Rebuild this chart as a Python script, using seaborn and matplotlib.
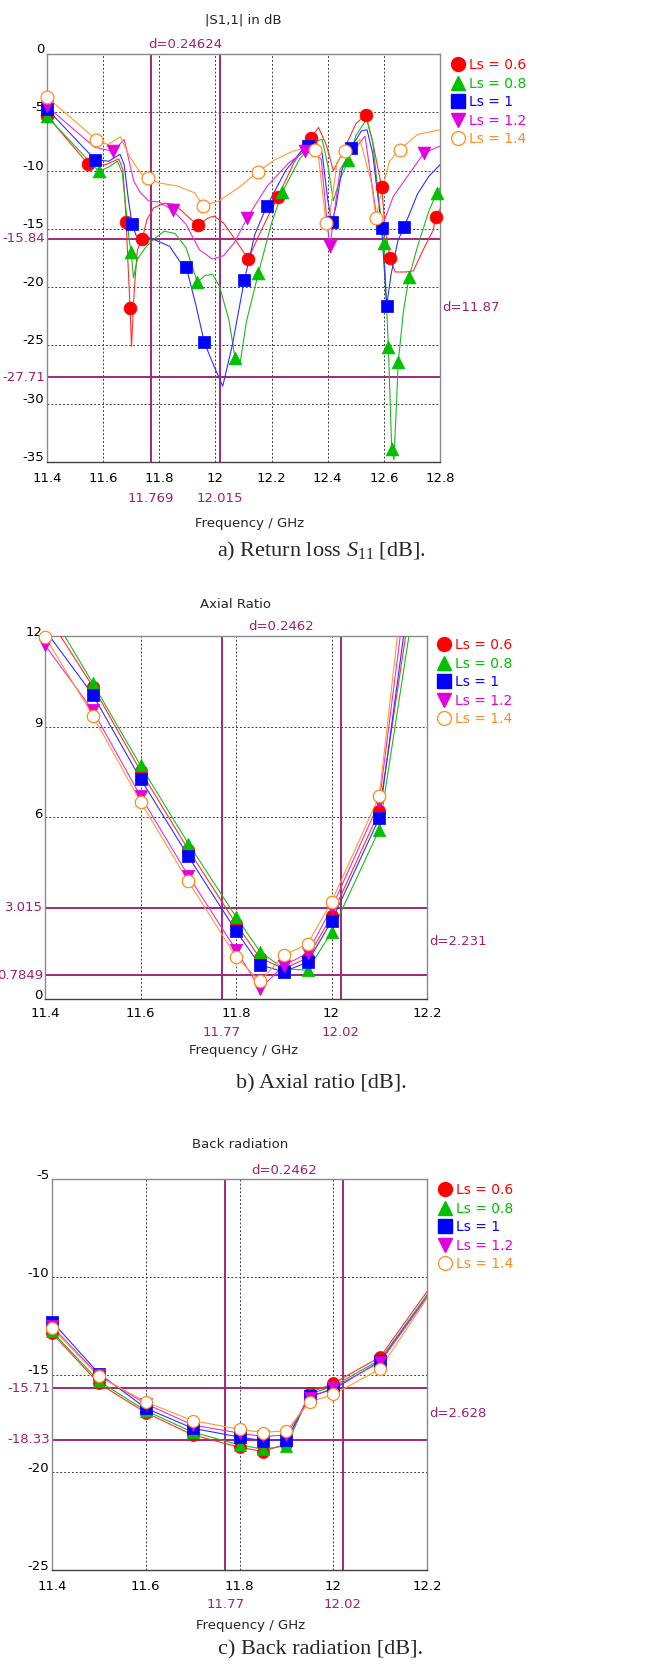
import matplotlib
matplotlib.use('Agg')
import matplotlib.pyplot as plt
import matplotlib.transforms as mtransforms
from matplotlib.lines import Line2D
import seaborn as sns

# Ls sweep, three CST results (S11, axial ratio, back radiation)
labels = ['Ls = 0.6', 'Ls = 0.8', 'Ls = 1', 'Ls = 1.2', 'Ls = 1.4']
colors = ['#ff0000', '#00c000', '#0000ff', '#e000e0', '#ff8c1a']
line_colors = ['#ff3030', '#20b820', '#3030ff', '#e030e0', '#ff9a30']
marks = ['o', '^', 's', 'v', 'o']

# ---- a) |S11| curves (read off the picture) ----
s11_f_06 = [11.40, 11.545, 11.608, 11.656, 11.670, 11.677, 11.682, 11.689, 11.696, 11.701, 11.711, 11.722, 11.739,
            11.756, 11.780, 11.818, 11.856, 11.895, 11.938, 11.971, 11.995, 12.029, 12.067, 12.117, 12.150, 12.190,
            12.222, 12.280, 12.340, 12.367, 12.395, 12.420, 12.450, 12.500, 12.535, 12.560, 12.592, 12.605, 12.622,
            12.640, 12.680, 12.705, 12.740, 12.776, 12.784, 12.800]
s11_db_06 = [-5.3, -9.4, -9.5, -9.0, -9.9, -12.2, -14.4, -18.2, -21.8, -25.1, -20.2, -16.8, -15.9,
             -14.2, -13.2, -12.8, -12.9, -13.8, -14.7, -14.1, -13.9, -14.5, -15.8, -17.6, -15.8, -13.8,
             -12.3, -9.3, -7.2, -6.3, -7.8, -10.0, -8.6, -6.0, -5.2, -7.5, -11.4, -15.0, -17.5,
             -18.7, -18.7, -18.6, -16.8, -15.1, -14.0, -13.3]
s11_f_08 = [11.40, 11.584, 11.620, 11.651, 11.668, 11.680, 11.693, 11.700, 11.708, 11.722, 11.751, 11.780, 11.818,
            11.856, 11.895, 11.936, 11.962, 11.990, 12.014, 12.048, 12.070, 12.088, 12.110, 12.153, 12.200, 12.237,
            12.300, 12.350, 12.380, 12.400, 12.420, 12.440, 12.474, 12.500, 12.539, 12.560, 12.580, 12.600, 12.616,
            12.628, 12.636, 12.645, 12.651, 12.670, 12.690, 12.720, 12.760, 12.788, 12.800]
s11_db_08 = [-5.35, -10.06, -9.7, -9.2, -10.2, -13.0, -16.0, -17.0, -19.2, -17.6, -16.6, -15.9, -15.2,
             -15.4, -16.6, -19.6, -19.0, -18.9, -19.9, -22.8, -26.1, -26.5, -23.0, -18.8, -14.5, -11.9,
             -9.0, -7.6, -7.3, -9.5, -12.6, -11.0, -9.06, -7.0, -5.6, -7.5, -12.0, -16.2, -25.1,
             -33.9, -34.8, -30.0, -26.5, -22.0, -19.1, -16.5, -13.5, -11.9, -11.5]
s11_f_10 = [11.40, 11.571, 11.620, 11.660, 11.675, 11.690, 11.703, 11.718, 11.770, 11.837, 11.876, 11.896, 11.930,
            11.960, 11.990, 12.026, 12.060, 12.103, 12.140, 12.182, 12.250, 12.310, 12.360, 12.380, 12.400, 12.415,
            12.430, 12.450, 12.482, 12.520, 12.540, 12.560, 12.580, 12.592, 12.610, 12.625, 12.650, 12.672, 12.720,
            12.760, 12.800]
s11_db_10 = [-4.71, -9.06, -9.2, -8.6, -9.5, -12.5, -14.6, -15.6, -15.8, -16.5, -17.9, -18.3, -21.5,
             -24.7, -26.5, -28.5, -25.0, -19.4, -15.5, -13.1, -10.0, -8.2, -7.6, -8.5, -12.5, -14.5,
             -13.0, -10.0, -8.06, -6.6, -6.5, -8.5, -12.5, -14.9, -21.6, -19.0, -16.0, -14.86, -12.0,
             -10.5, -9.5]
s11_f_12 = [11.40, 11.570, 11.635, 11.675, 11.690, 11.709, 11.733, 11.762, 11.800, 11.848, 11.895, 11.943, 11.990,
            12.029, 12.067, 12.113, 12.184, 12.261, 12.319, 12.348, 12.377, 12.396, 12.408, 12.420, 12.444, 12.473,
            12.533, 12.574, 12.586, 12.634, 12.743, 12.800]
s11_db_12 = [-4.5, -8.0, -8.34, -7.34, -8.9, -10.9, -11.9, -12.6, -12.7, -13.4, -14.6, -16.8, -17.6,
             -17.3, -16.2, -14.06, -11.34, -9.34, -8.34, -8.2, -9.06, -13.9, -16.6, -14.2, -9.9, -8.8,
             -7.06, -13.9, -15.3, -12.2, -8.49, -7.9]
s11_f_14 = [11.40, 11.575, 11.617, 11.661, 11.694, 11.733, 11.760, 11.800, 11.867, 11.925, 11.957, 12.010, 12.087,
            12.150, 12.213, 12.280, 12.338, 12.353, 12.367, 12.382, 12.394, 12.400, 12.415, 12.433, 12.462, 12.515,
            12.555, 12.572, 12.585, 12.620, 12.657, 12.720, 12.800]
s11_db_14 = [-3.7, -7.34, -7.77, -7.11, -8.77, -10.2, -10.63, -11.06, -11.34, -11.9, -13.0, -12.63, -11.4,
             -10.11, -9.06, -8.3, -8.0, -8.26, -8.8, -12.0, -14.5, -15.3, -12.5, -9.3, -8.29, -7.34,
             -11.0, -14.06, -12.5, -9.2, -8.2, -6.9, -6.5]

# marker positions on the S11 curves
s11_mk_f_06 = [11.40, 11.545, 11.682, 11.696, 11.738, 11.938, 12.117, 12.222, 12.340, 12.535, 12.592, 12.622, 12.784]
s11_mk_db_06 = [-5.3, -9.4, -14.43, -21.8, -15.9, -14.7, -17.6, -12.26, -7.23, -5.2, -11.43, -17.5, -13.97]
s11_mk_f_08 = [11.40, 11.584, 11.700, 11.936, 12.070, 12.153, 12.237, 12.474, 12.600, 12.616, 12.628, 12.651, 12.690, 12.788]
s11_mk_db_08 = [-5.35, -10.06, -17.0, -19.6, -26.1, -18.8, -11.86, -9.06, -16.2, -25.1, -33.9, -26.46, -19.1, -11.9]
s11_mk_f_10 = [11.40, 11.571, 11.704, 11.896, 11.960, 12.103, 12.182, 12.330, 12.415, 12.482, 12.592, 12.610, 12.672]
s11_mk_db_10 = [-4.71, -9.06, -14.6, -18.3, -24.7, -19.37, -13.06, -7.86, -14.43, -8.06, -14.91, -21.6, -14.86]
s11_mk_f_12 = [11.40, 11.635, 11.848, 12.113, 12.319, 12.408, 12.743]
s11_mk_db_12 = [-4.5, -8.34, -13.4, -14.06, -8.34, -16.5, -8.49]
s11_mk_f_14 = [11.40, 11.575, 11.760, 11.957, 12.150, 12.353, 12.394, 12.462, 12.572, 12.657]
s11_mk_db_14 = [-3.7, -7.34, -10.63, -13.0, -10.11, -8.26, -14.54, -8.29, -14.06, -8.2]

# ---- b) axial ratio ----
ar_freq = [11.4, 11.5, 11.6, 11.7, 11.8, 11.85, 11.9, 11.95, 12.0, 12.1, 12.2]
ar_06 = [12.8, 10.33, 7.54, 4.94, 2.49, 1.36, 1.0, 1.36, 2.74, 6.2, 16.7]
ar_08 = [13.1, 10.44, 7.72, 5.14, 2.72, 1.57, 1.0, 0.95, 2.21, 5.6, 15.9]
ar_10 = [12.2, 10.06, 7.28, 4.72, 2.25, 1.13, 0.9, 1.22, 2.57, 5.98, 17.8]
ar_12 = [11.7, 9.54, 6.71, 4.08, 1.62, 0.34, 1.1, 1.52, 3.0, 6.5, 19.0]
ar_14 = [11.98, 9.37, 6.52, 3.89, 1.40, 0.58, 1.44, 1.82, 3.21, 6.71, 20.6]

# ---- c) back radiation ----
br_freq = [11.4, 11.5, 11.6, 11.7, 11.8, 11.85, 11.9, 11.95, 12.0, 12.1, 12.2]
br_06 = [-12.88, -15.46, -16.95, -18.09, -18.72, -18.94, -18.55, -15.93, -15.46, -14.10, -10.76]
br_08 = [-12.80, -15.34, -16.85, -17.95, -18.60, -18.82, -18.65, -16.00, -15.60, -14.24, -10.93]
br_10 = [-12.29, -14.95, -16.72, -17.75, -18.20, -18.38, -18.34, -16.10, -15.76, -14.32, -11.02]
br_12 = [-12.54, -15.05, -16.50, -17.58, -18.00, -18.17, -18.09, -16.19, -15.68, -14.37, -11.05]
br_14 = [-12.63, -15.10, -16.40, -17.36, -17.80, -17.97, -17.87, -16.40, -16.02, -14.71, -11.10]

# marker (cursor) readouts
s11_vlines = [11.769, 12.015]
s11_hlines = [-15.84, -27.71]
ar_vlines = [11.77, 12.02]
ar_hlines = [3.015, 0.7849]
br_vlines = [11.77, 12.02]
br_hlines = [-15.71, -18.33]

sns.set_theme(style='white')
plt.rcParams['font.family'] = ['DejaVu Sans']
plt.rcParams['mathtext.fontset'] = 'custom'
plt.rcParams['mathtext.rm'] = 'Liberation Serif'
plt.rcParams['mathtext.it'] = 'Liberation Serif:italic'

W, H = 645, 1667
MK = '#a0287a'
MKT = '#a0206e'
FS = 9.5

fig = plt.figure(figsize=(W / 100, H / 100), dpi=100)


def px_axes(l, t, r, b):
    return fig.add_axes([l / W, 1 - b / H, (r - l) / W, (b - t) / H])


def ftext(x, y, s, **kw):
    fig.text(x / W, 1 - y / H, s, **kw)


def draw_series(ax, f, v, mf, mv, i, ms=85):
    sns.lineplot(x=f, y=v, color=line_colors[i], lw=0.8, ax=ax, sort=False, estimator=None, zorder=3 + i)
    if i == 4:
        sns.scatterplot(x=mf, y=mv, marker='o', s=ms, color='white', edgecolor=colors[i], linewidth=0.9,
                        ax=ax, zorder=10 + i, clip_on=False)
    else:
        sns.scatterplot(x=mf, y=mv, marker=marks[i], s=ms, color=colors[i], edgecolor=colors[i], linewidth=0.5,
                        ax=ax, zorder=10 + i, clip_on=False)


def style_axes(ax, xt, xl, yt, yl, xlim, ylim, xpad, yshift):
    ax.set_xlim(*xlim)
    ax.set_ylim(*ylim)
    ax.set_xticks(xt)
    ax.set_xticklabels(xl)
    ax.set_yticks(yt)
    ax.set_yticklabels(yl)
    ax.set_xlabel('')
    ax.set_ylabel('')
    ax.grid(True, ls=(0, (2, 2)), color='#404040', lw=0.7)
    ax.tick_params(length=0, labelsize=FS, colors='black')
    ax.tick_params(axis='x', pad=xpad)
    ax.tick_params(axis='y', pad=2)
    off = mtransforms.ScaledTranslation(0, yshift / 100, fig.dpi_scale_trans)
    for lab in ax.get_yticklabels():
        lab.set_transform(lab.get_transform() + off)
    for side in ['top', 'right', 'left']:
        ax.spines[side].set_color('#8a8a8a')
        ax.spines[side].set_linewidth(1)
    ax.spines['bottom'].set_color('#404040')
    ax.spines['bottom'].set_linewidth(1)
    ax.set_facecolor('white')


def cursors(ax, vl, hl, vfmt, hfmt, dtop, dright, below):
    for x in vl:
        ax.axvline(x, color=MK, lw=1.4, zorder=2)
        ax.annotate(vfmt.format(x), xy=(x, 0), xycoords=('data', 'axes fraction'), xytext=(0, -below),
                    textcoords='offset pixels', ha='center', va='center', color=MKT, fontsize=FS)
    for y in hl:
        ax.axhline(y, color=MK, lw=1.4, zorder=2)
        ax.annotate(hfmt.format(y), xy=(0, y), xycoords=('axes fraction', 'data'), xytext=(-2, 0),
                    textcoords='offset pixels', ha='right', va='center', color=MKT, fontsize=FS)
    ax.annotate(dtop, xy=(sum(vl) / 2, 1), xycoords=('data', 'axes fraction'), xytext=(0, 9),
                textcoords='offset pixels', ha='center', va='center', color=MKT, fontsize=FS)
    ax.annotate(dright, xy=(1, sum(hl) / 2), xycoords=('axes fraction', 'data'), xytext=(2, 0),
                textcoords='offset pixels', ha='left', va='center', color=MKT, fontsize=FS)


def legend(ax, x, y):
    handles = []
    for i in range(5):
        if i == 4:
            h = Line2D([], [], ls='none', marker='o', ms=10, mfc='white', mec=colors[i], mew=0.9)
        else:
            h = Line2D([], [], ls='none', marker=marks[i], ms=10, mfc=colors[i], mec=colors[i])
        handles.append(h)
    leg = ax.legend(handles, labels, loc='upper left', bbox_to_anchor=(x / W, 1 - y / H),
                    bbox_transform=fig.transFigure, frameon=False, handlelength=0.9, handletextpad=0.35,
                    labelspacing=0.33, borderaxespad=0, borderpad=0, fontsize=FS + 0.5)
    for t, c in zip(leg.get_texts(), colors):
        t.set_color(c)


# ---------------- a) return loss ----------------
ax = px_axes(47, 54, 440, 462)
s11_lines = [(s11_f_06, s11_db_06), (s11_f_08, s11_db_08), (s11_f_10, s11_db_10), (s11_f_12, s11_db_12), (s11_f_14, s11_db_14)]
s11_marks = [(s11_mk_f_06, s11_mk_db_06), (s11_mk_f_08, s11_mk_db_08), (s11_mk_f_10, s11_mk_db_10),
             (s11_mk_f_12, s11_mk_db_12), (s11_mk_f_14, s11_mk_db_14)]
for i in range(5):
    draw_series(ax, *s11_lines[i], *s11_marks[i], i)
style_axes(ax, [11.4, 11.6, 11.8, 12.0, 12.2, 12.4, 12.6, 12.8],
           ['11.4', '11.6', '11.8', '12', '12.2', '12.4', '12.6', '12.8'],
           [-35, -30, -25, -20, -15, -10, -5, 0], ['-35', '-30', '-25', '-20', '-15', '-10', '-5', '0'],
           (11.4, 12.8), (-35, 0), 7, 6)
cursors(ax, s11_vlines, s11_hlines, '{:.3f}', '{:.2f}', 'd=0.24624', 'd=11.87', 36)
legend(ax, 452, 58)
ftext(243, 20, '|S1,1| in dB', ha='center', va='center', fontsize=FS)
ftext(250, 524, 'Frequency / GHz', ha='center', va='center', fontsize=FS)
ftext(321, 551, r'a) Return loss $S_{11}$ [dB].', ha='center', va='center', fontsize=16, family='Liberation Serif')

# ---------------- b) axial ratio ----------------
ax = px_axes(45, 636, 427, 999)
ar_all = [ar_06, ar_08, ar_10, ar_12, ar_14]
for i in range(5):
    mf = [f for f, v in zip(ar_freq, ar_all[i]) if v <= 12.05]
    mv = [v for v in ar_all[i] if v <= 12.05]
    draw_series(ax, ar_freq, ar_all[i], mf, mv, i, ms=80)
style_axes(ax, [11.4, 11.6, 11.8, 12.0, 12.2], ['11.4', '11.6', '11.8', '12', '12.2'],
           [0, 3, 6, 9, 12], ['0', '', '6', '9', '12'], (11.4, 12.2), (0, 12), 6, 5)
cursors(ax, ar_vlines, ar_hlines, '{:.2f}', '{:g}', 'd=0.2462', 'd=2.231', 33)
legend(ax, 438, 638)
ftext(236, 604, 'Axial Ratio', ha='center', va='center', fontsize=FS)
ftext(244, 1050, 'Frequency / GHz', ha='center', va='center', fontsize=FS)
ftext(321, 1084, 'b) Axial ratio [dB].', ha='center', va='center', fontsize=16, family='Liberation Serif')

# ---------------- c) back radiation ----------------
ax = px_axes(52, 1179, 427, 1570)
br_all = [br_06, br_08, br_10, br_12, br_14]
for i in range(5):
    draw_series(ax, br_freq, br_all[i], br_freq[:-1], br_all[i][:-1], i, ms=75)
style_axes(ax, [11.4, 11.6, 11.8, 12.0, 12.2], ['11.4', '11.6', '11.8', '12', '12.2'],
           [-25, -20, -15, -10, -5], ['-25', '-20', '-15', '-10', '-5'], (11.4, 12.2), (-25, -5), 7, 5)
cursors(ax, br_vlines, br_hlines, '{:.2f}', '{:.2f}', 'd=0.2462', 'd=2.628', 34)
legend(ax, 439, 1183)
ftext(240, 1144, 'Back radiation', ha='center', va='center', fontsize=FS)
ftext(251, 1625, 'Frequency / GHz', ha='center', va='center', fontsize=FS)
ftext(321, 1650, 'c) Back radiation [dB].', ha='center', va='center', fontsize=16, family='Liberation Serif')

fig.savefig('out.png', dpi=100, facecolor='white')
